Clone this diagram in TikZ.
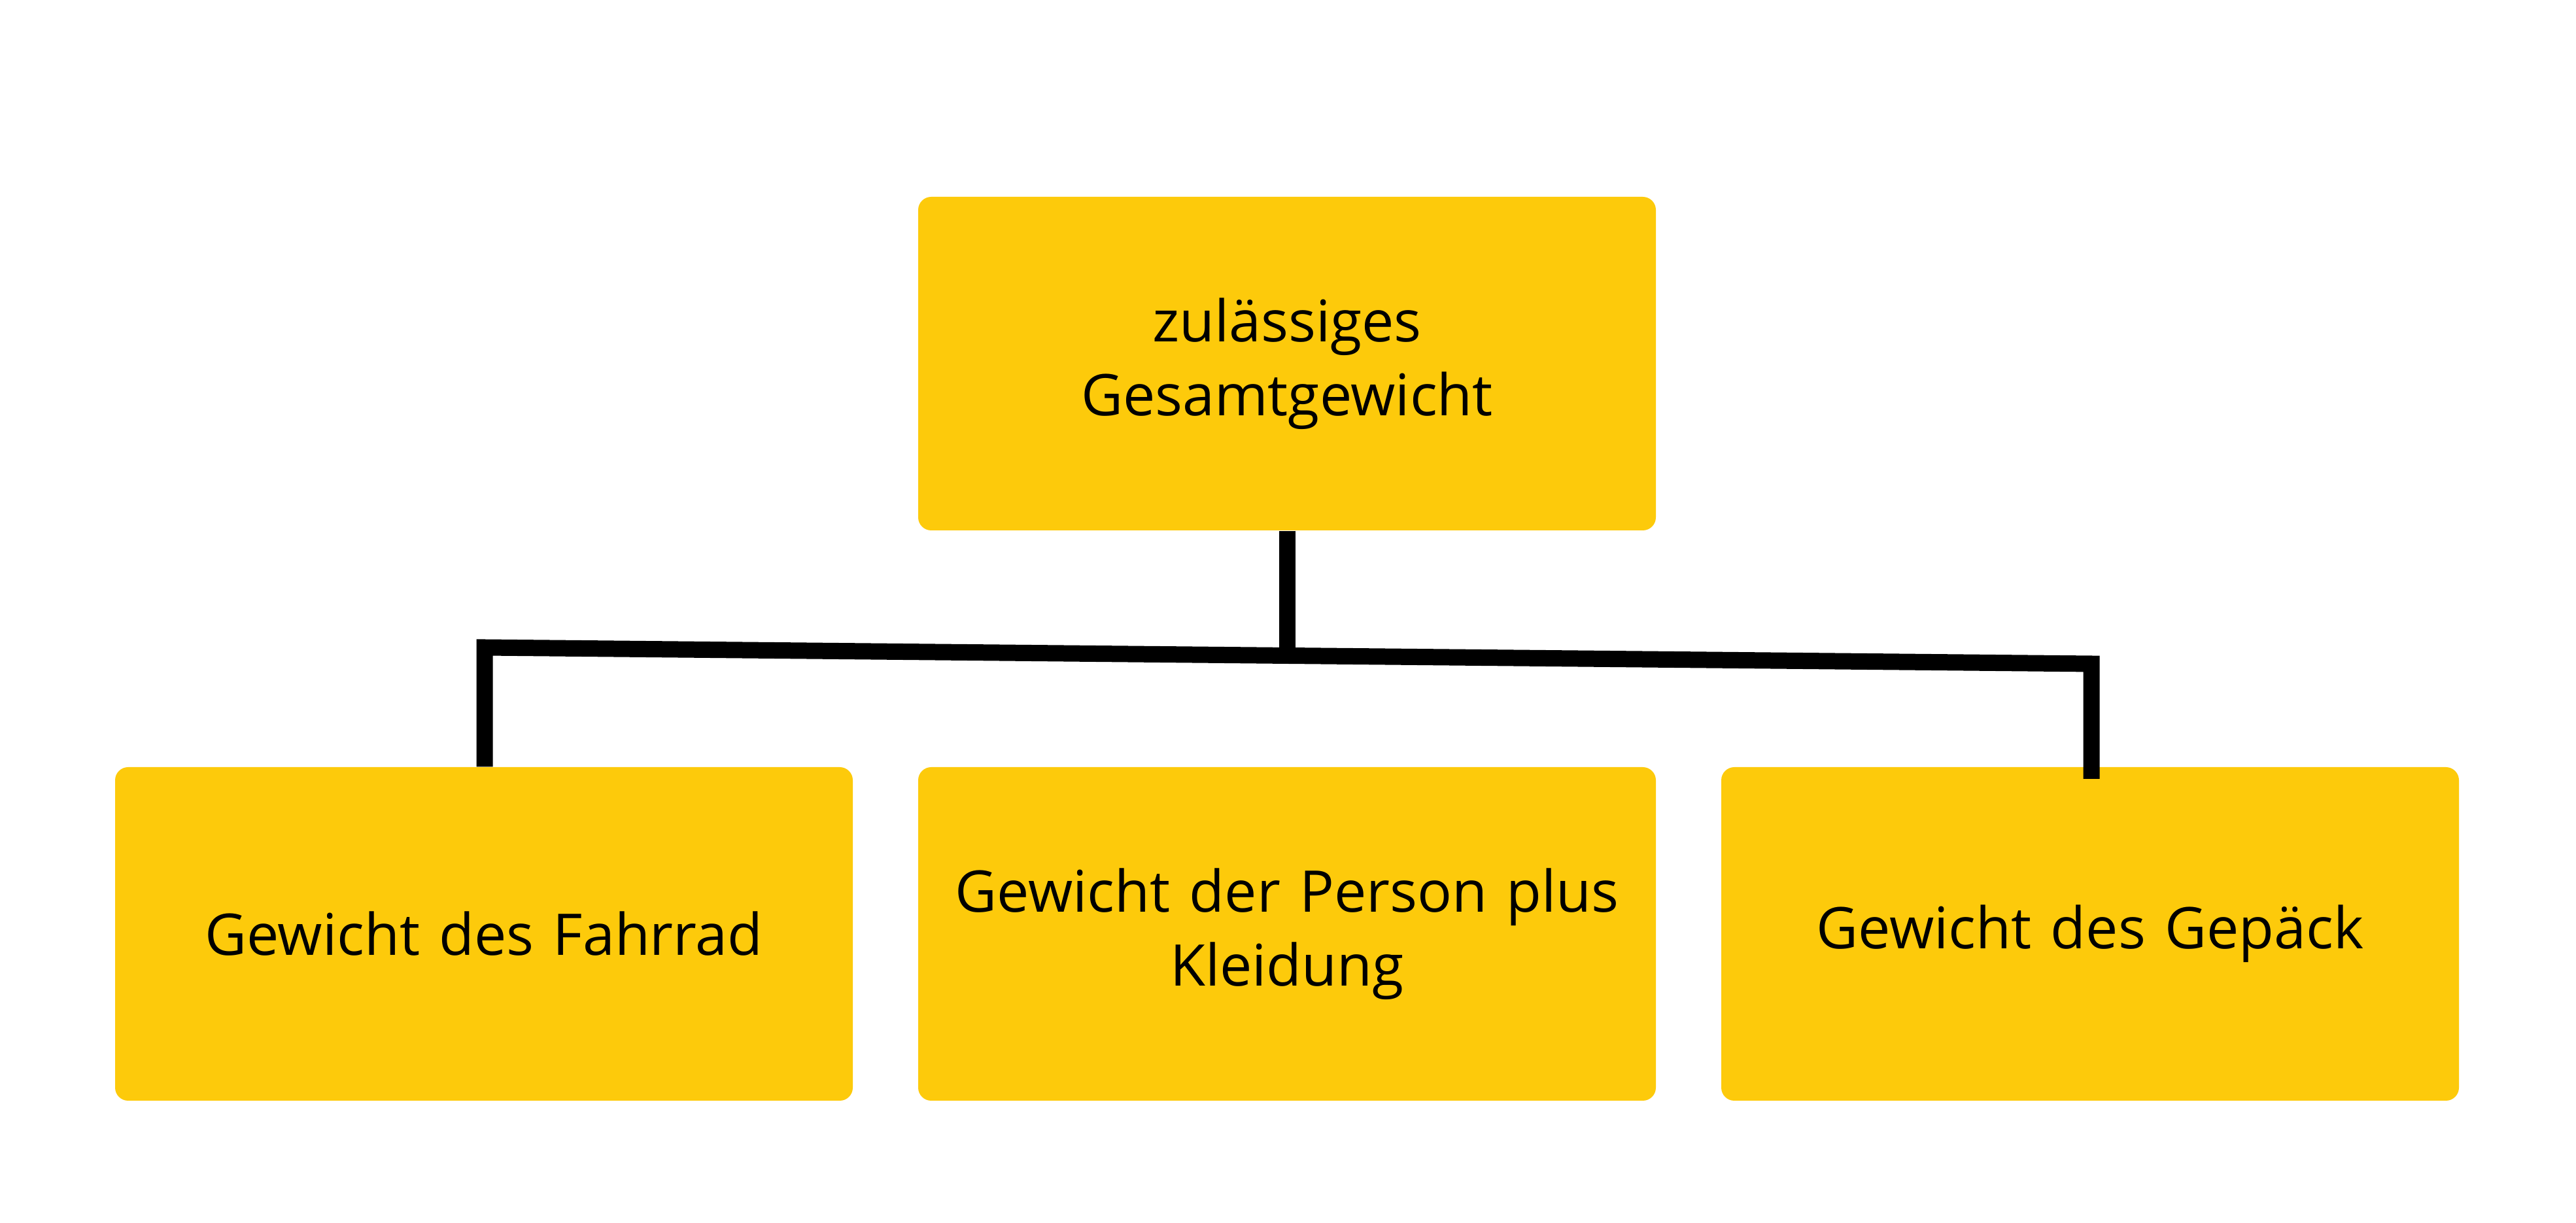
\documentclass[tikz,border=0pt]{standalone}
\usepackage{fontspec}
\setmainfont{Open Sans}
\definecolor{boxy}{HTML}{FDCA0B}
\begin{document}
\begin{tikzpicture}
\useasboundingbox[fill=white] (0,0) rectangle (39.39,18.7);
\tikzset{bx/.style={fill=boxy,rounded corners=0.2cm,minimum width=11.28cm,minimum height=5.1cm,align=center,font=\fontsize{25}{32}\selectfont,text width=10.6cm},
 ln/.style={line width=0.25cm,draw=black}}
\node[bx] (top) at (19.68,13.14) {zulässiges\\Gesamtgewicht};
\node[bx] (b1) at (7.40,4.42) {Gewicht des Fahrrad};
\node[bx] (b2) at (19.68,4.42) {Gewicht der Person plus\\Kleidung};
\node[bx] (b3) at (31.96,4.42) {Gewicht des Gepäck};
\coordinate (hl) at (7.41,8.80);
\coordinate (hr) at (31.98,8.55);
\coordinate (hm) at (19.68,8.68);
\coordinate (re) at (31.98,6.79);
\draw[ln] (top.south) -- (hm);
\draw[ln] (b1.north -| hl) -- (hl) -- (hr) -- (re);
\end{tikzpicture}
\end{document}
